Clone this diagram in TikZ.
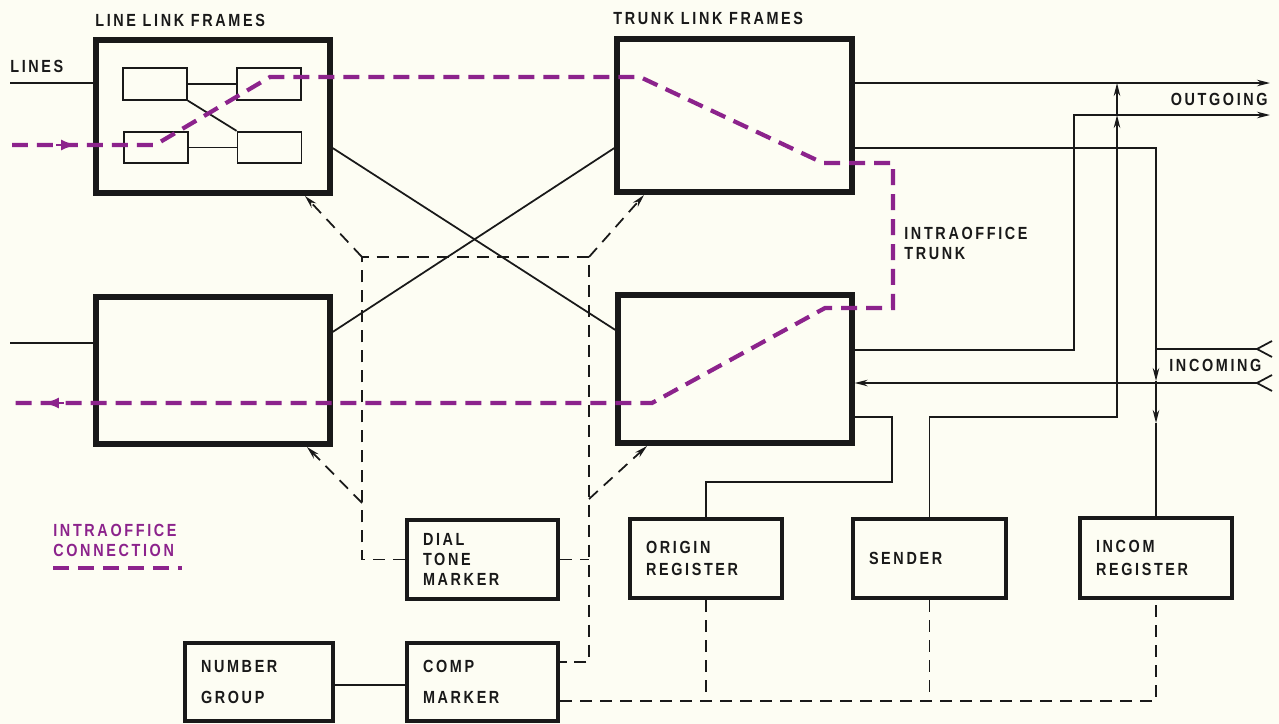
\documentclass[tikz,border=0pt]{standalone}
\usepackage{fontspec}
\setmainfont{Liberation Sans}[FakeStretch=0.82, LetterSpace=15, UprightFont=* Bold]
\usetikzlibrary{arrows.meta}
\definecolor{bg}{RGB}{253,253,243}
\definecolor{purp}{RGB}{140,35,140}
\definecolor{ink}{RGB}{25,25,25}
\begin{document}
\begin{tikzpicture}[x=0.02cm, y=-0.02cm,
  wire/.style={line width=1pt, ink},
  ctrl/.style={line width=1pt, ink, dash pattern=on 0.24cm off 0.16cm},
  conn/.style={line width=2.4pt, purp, dash pattern=on 0.32cm off 0.18cm},
  frm/.style={draw=ink, line width=3pt, fill=bg, inner sep=0pt},
  cell/.style={draw=ink, line width=1pt, fill=bg, minimum width=1.28cm, minimum height=0.63cm, inner sep=0pt},
  reg/.style={draw=ink, line width=2.5pt, fill=bg, align=left, inner xsep=0.32cm, inner ysep=0pt, text=ink, font=\fontsize{10}{11.4}\selectfont},
  lbl/.style={inner sep=0pt, text=ink, font=\fontsize{10}{11.4}\selectfont},
  tip/.style={-{Stealth[length=0.26cm, width=0.13cm]}},
  ptip/.style={purp, line width=1pt, -{Latex[length=0.3cm, width=0.22cm]}}
]
\fill[bg] (0,0) rectangle (1279,724);
\useasboundingbox (0,0) rectangle (1279,724);

% frames
\node[frm, minimum width=4.68cm, minimum height=3.06cm] (llf) at (213,116.5) {};
\node[frm, minimum width=4.70cm, minimum height=3.06cm] (tlf) at (734.5,115.5) {};
\node[frm, minimum width=4.68cm, minimum height=2.94cm] (llf2) at (213,370.5) {};
\node[frm, minimum width=4.68cm, minimum height=2.96cm] (tlf2) at (735,369) {};

\node[cell] (ca) at (155,84) {};
\node[cell] (cb) at (269,84) {};
\node[cell] (cc) at (156,147.5) {};
\node[cell] (cd) at (269.5,147.5) {};
\draw[wire] (ca.east) -- (cb.west);
\draw[wire] (cc.east) -- (cd.west);
\draw[wire] (ca.south east) -- (cd.north west);

% labels
\node[lbl, anchor=west] (hl) at (95,20) {LINE LINK FRAMES};
\node[lbl, anchor=west] (ht) at (613,18) {TRUNK LINK FRAMES};
\node[lbl, anchor=west] (lines) at (10,66) {LINES};
\node[lbl, anchor=east] (outg) at (1268,99) {OUTGOING};
\node[lbl, anchor=west] (inc) at (1169,365) {INCOMING};
\node[lbl, anchor=west, align=left] (itr) at (904,243) {INTRAOFFICE\\TRUNK};
\node[lbl, anchor=west, align=left, text=purp] (leg) at (53,540) {INTRAOFFICE\\CONNECTION};
\coordinate (lg1) at (53,568);
\coordinate (lg2) at (182,568);
\draw[conn] (lg1) -- (lg2);

% boxes
\node[reg, text width=2.38cm, minimum height=1.58cm] (dtm) at (482.5,559.5) {DIAL\\TONE\\MARKER};
\node[reg, text width=2.38cm, minimum height=1.56cm] (comp) at (482.5,682) {COMP\\[6pt]MARKER};
\node[reg, text width=2.32cm, minimum height=1.56cm] (numg) at (259,682) {NUMBER\\[6pt]GROUP};
\node[reg, text width=2.40cm, minimum height=1.58cm] (orig) at (706,558.5) {ORIGIN\\[1pt]REGISTER};
\node[reg, text width=2.42cm, minimum height=1.58cm] (send) at (929.5,558.5) {SENDER};
\node[reg, text width=2.40cm, minimum height=1.60cm] (incr) at (1156,558) {INCOM\\[2pt]REGISTER};

% lines input
\coordinate (lin1) at (10,83);
\coordinate (lin2) at (10,343);
\draw[wire] (lin1) -- (llf.west |- 0,83);
\draw[wire] (lin2) -- (llf2.west |- 0,343);

% cross links
\draw[wire] (llf.east |- 0,148) -- (tlf2.west |- 0,330);
\draw[wire] (llf2.east |- 0,332) -- (tlf.west |- 0,148);

% control dashed
\coordinate (jl) at (362,257);
\coordinate (jr) at (589,257);
\coordinate (jl2) at (362,503);
\coordinate (jr2) at (589,499);
\draw[ctrl] (dtm.west) -- (jl |- dtm.west) -- (jl) -- (jr) -- (jr |- 0,662) -- (comp.east |- 0,662);
\draw[ctrl] (dtm.east) -- (jr |- dtm.east);
\draw[ctrl, tip] (jl) -- (305,196);
\draw[ctrl, tip] (jr) -- (644,195);
\draw[ctrl, tip] (jl2) -- (307,447);
\draw[ctrl, tip] (jr2) -- (647,446);
\draw[wire] (numg.east |- 0,685) -- (comp.west |- 0,685);
\draw[ctrl] (comp.east |- 0,701) -- (incr.south |- 0,701) -- (incr.south);
\draw[ctrl] (orig.south) -- (orig.south |- 0,701);
\draw[ctrl] (send.south) -- (send.south |- 0,701);

% outgoing
\coordinate (o1) at (1270,83);
\coordinate (o2) at (1270,115);
\draw[wire, tip] (tlf.east |- 0,83) -- (o1);
\draw[wire, tip] (tlf2.east |- 0,350) -- (1074,350) -- (1074,115) -- (o2);
\draw[wire, tip] (send.north) -- (send.north |- 0,417) -- (1117,417) -- (1117,115);
\draw[wire, tip] (1117,115) -- (1117,83);
\draw[wire, tip] (tlf.east |- 0,148) -- (incr.north |- 0,148) -- (incr.north |- 0,381);
\draw[wire, tip] (incr.north |- 0,381) -- (incr.north |- 0,423);
\draw[wire] (incr.north |- 0,423) -- (incr.north);

% incoming
\coordinate (i1) at (1257,349);
\coordinate (i2) at (1257,383);
\draw[wire] (incr.north |- 0,349) -- (i1);
\draw[wire] (1272,341) -- (i1) -- (1272,357);
\draw[wire] (1272,375) -- (i2) -- (1272,391);
\draw[wire, tip] (i2) -- (tlf2.east |- 0,383);

% origin register feed
\draw[wire] (tlf2.east |- 0,417) -- (892,417) -- (892,482) -- (orig.north |- 0,482) -- (orig.north);

% purple intraoffice connection
\coordinate (pin) at (12,145);
\coordinate (pout) at (12,403);
\draw[conn] (pin) -- (155,145) -- (270,77) -- (640,77) -- (823,163) -- (893,163) -- (893,308) -- (825,308) -- (652,403) -- (pout);
\draw[ptip] (56,145) -- (76,145);
\draw[ptip] (64,403) -- (44,403);
\end{tikzpicture}
\end{document}
